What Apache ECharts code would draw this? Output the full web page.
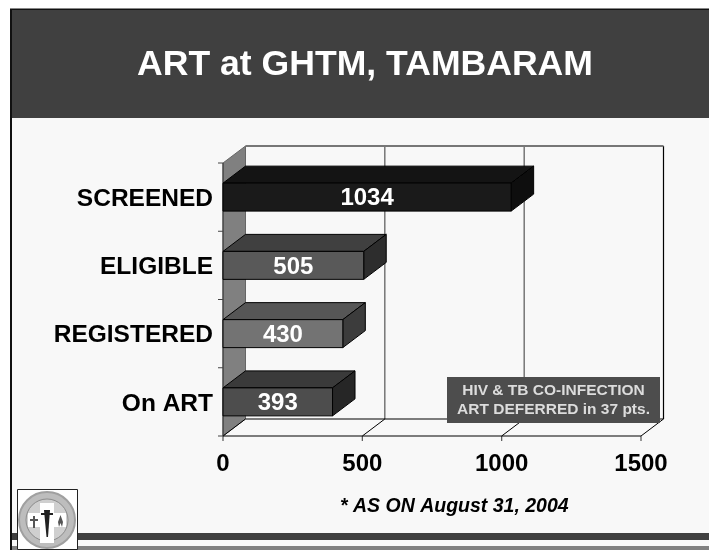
<!DOCTYPE html>
<html><head><meta charset="utf-8">
<style>html,body{margin:0;padding:0;background:#fff}#c{width:709px;height:550px}</style>
<script src="https://cdn.jsdelivr.net/npm/echarts@6/dist/echarts.min.js"></script>
</head><body><div id="c"></div>
<script>
const categories = ['On ART', 'REGISTERED', 'ELIGIBLE', 'SCREENED'];
const values = [393, 430, 505, 1034];
const ticks = [0, 500, 1000, 1500];
const titleText = 'ART at GHTM, TAMBARAM';
const footnote = '* AS ON August 31, 2004';
const noteLines = ['HIV & TB CO-INFECTION', 'ART DEFERRED in 37 pts.'];
const frontColors = ['#4d4d4d', '#737373', '#595959', '#1a1a1a'];
const topColors = ['#3a3a3a', '#565656', '#404040', '#141414'];
const sideColors = ['#262626', '#3c3c3c', '#2d2d2d', '#0e0e0e'];

const DX = 22.5, DY = -17;
const chart = echarts.init(document.getElementById('c'), null, {renderer: 'canvas'});
const FF = '"Liberation Sans", Arial, sans-serif';
const poly = (pts, fill, stroke, lw) => ({type: 'polygon', shape: {points: pts}, style: {fill, stroke: stroke || null, lineWidth: lw || 0}});
const line = (a, b, stroke, lw) => ({type: 'line', shape: {x1: a[0], y1: a[1], x2: b[0], y2: b[1]}, style: {stroke, lineWidth: lw || 1}});

function renderFrame(params, api) {
  if (params.dataIndex > 0) return;
  const g = [];
  const bottom = params.coordSys.y + params.coordSys.height;
  const top = params.coordSys.y;
  const x0 = params.coordSys.x;
  const xMax = x0 + params.coordSys.width;
  g.push(poly([[x0, top], [x0 + DX, top + DY], [x0 + DX, bottom + DY], [x0, bottom]], '#808080', '#666', 1));
  ticks.forEach((t, i) => {
    const x = api.coord([t, 0])[0];
    if (i > 0) {
      g.push(line([x + DX, top + DY], [x + DX, bottom + DY], i === ticks.length - 1 ? '#000' : '#555', 1.2));
    }
    g.push(line([x, bottom], [x + DX, bottom + DY], '#000', 1));
    g.push(line([x, bottom], [x, bottom + 5], '#555', 1.2));
  });
  g.push(line([x0 + DX, top + DY], [xMax + DX, top + DY], '#777', 2));
  g.push(line([x0 + DX, bottom + DY], [xMax + DX, bottom + DY], '#000', 1));
  g.push(line([x0, bottom], [xMax, bottom], '#000', 1.2));
  g.push(line([x0, top], [x0, bottom], '#333', 1));
  for (let i = 0; i <= categories.length; i++) {
    const y = bottom - (bottom - top) * i / categories.length;
    g.push(line([x0 - 5, y], [x0, y], '#444', 1));
  }
  return {type: 'group', children: g};
}

function renderBar(params, api) {
  const i = params.dataIndex;
  const end = api.coord([api.value(0), i]);
  const start = api.coord([0, i]);
  const h = api.size([0, 1])[1] * 0.41;
  const y1 = end[1] - h / 2, y2 = end[1] + h / 2;
  const S = '#000';
  return {type: 'group', children: [
    poly([[start[0], y1], [end[0], y1], [end[0] + DX, y1 + DY], [start[0] + DX, y1 + DY]], topColors[i], S, 1),
    poly([[end[0], y1], [end[0] + DX, y1 + DY], [end[0] + DX, y2 + DY], [end[0], y2]], sideColors[i], S, 1),
    {type: 'rect', shape: {x: start[0], y: y1, width: end[0] - start[0], height: y2 - y1}, style: {fill: frontColors[i], stroke: S, lineWidth: 1}},
    {type: 'text', style: {text: String(api.value(0)), x: (start[0] + end[0]) / 2, y: end[1] + 1.5, align: 'center', verticalAlign: 'middle', fill: '#fff', font: 'bold 24px ' + FF}}
  ]};
}

const logo = [
  {type: 'rect', shape: {x: 17.5, y: 489.5, width: 60, height: 60}, style: {fill: '#fff', stroke: '#222', lineWidth: 1}, z: 20},
  {type: 'circle', shape: {cx: 47, cy: 520, r: 28}, style: {fill: '#bdbdbd', stroke: '#a0a0a0', lineWidth: 2}, z: 21},
  {type: 'circle', shape: {cx: 47, cy: 520, r: 21}, style: {fill: '#cfcfcf', stroke: '#8c8c8c', lineWidth: 1}, z: 21},
  {type: 'rect', shape: {x: 40, y: 503, width: 14, height: 40}, style: {fill: '#fff'}, z: 22},
  {type: 'rect', shape: {x: 28, y: 513, width: 38, height: 14}, style: {fill: '#fff'}, z: 22},
  {type: 'polygon', shape: {points: [[44, 510], [50, 510], [48, 537], [46.5, 537]]}, style: {fill: '#222'}, z: 23},
  {type: 'rect', shape: {x: 41, y: 513, width: 12, height: 2}, style: {fill: '#222'}, z: 23},
  {type: 'rect', shape: {x: 33, y: 516, width: 2, height: 12}, style: {fill: '#555'}, z: 23},
  {type: 'rect', shape: {x: 30, y: 519, width: 8, height: 2}, style: {fill: '#555'}, z: 23},
  {type: 'polygon', shape: {points: [[60.5, 515], [63, 522], [62, 527], [60.5, 523], [59, 527], [58, 522]]}, style: {fill: '#555'}, z: 23}
];

chart.setOption({
  animation: false,
  backgroundColor: '#ffffff',
  grid: {left: 223, top: 163, width: 418, height: 273, containLabel: false},
  xAxis: {type: 'value', min: 0, max: 1500, interval: 500,
    axisLine: {show: false}, axisTick: {show: false}, splitLine: {show: false},
    axisLabel: {show: true, margin: 16, color: '#000', fontFamily: FF, fontWeight: 'bold', fontSize: 24, formatter: v => String(v), hideOverlap: false}},
  yAxis: {type: 'category', data: categories,
    axisLine: {show: false}, axisTick: {show: false},
    axisLabel: {margin: 10, color: '#000', fontFamily: FF, fontWeight: 'bold', fontSize: 24.5, verticalAlign: 'top', lineHeight: 4}},
  graphic: {elements: [
    {type: 'rect', z: -10, shape: {x: 11, y: 9, width: 698, height: 541}, style: {fill: '#f8f8f8'}},
    {type: 'rect', z: -9, shape: {x: 11, y: 10, width: 698, height: 108}, style: {fill: '#404040'}},
    {type: 'rect', z: -9, shape: {x: 10, y: 8.5, width: 699, height: 1.5}, style: {fill: '#111'}},
    {type: 'rect', z: -8, shape: {x: 10, y: 9, width: 2, height: 541}, style: {fill: '#111'}},
    {type: 'rect', z: -9, shape: {x: 12, y: 533, width: 697, height: 7}, style: {fill: '#404040'}},
    {type: 'rect', z: -9, shape: {x: 12, y: 546, width: 697, height: 4}, style: {fill: '#808080'}},
    {type: 'text', z: 5, style: {text: titleText, x: 365, y: 65, align: 'center', verticalAlign: 'middle', fill: '#fff', font: 'bold 35.6px ' + FF}},
    {type: 'rect', z: 30, shape: {x: 447, y: 377, width: 213, height: 46}, style: {fill: '#4d4d4d'}},
    {type: 'text', z: 31, style: {text: noteLines[0], x: 553.5, y: 391, align: 'center', verticalAlign: 'middle', fill: '#dcdcdc', font: 'bold 15.5px ' + FF}},
    {type: 'text', z: 31, style: {text: noteLines[1], x: 553.5, y: 410, align: 'center', verticalAlign: 'middle', fill: '#dcdcdc', font: 'bold 15.5px ' + FF}},
    {type: 'text', z: 5, style: {text: footnote, x: 340, y: 507, align: 'left', verticalAlign: 'middle', fill: '#000', font: 'italic bold 19.5px ' + FF}},
    ...logo
  ]},
  series: [
    {type: 'custom', coordinateSystem: 'cartesian2d', renderItem: renderFrame, data: values.map((v, i) => [v, i]), encode: {x: 0, y: 1}, silent: true, z: 1, clip: false},
    {type: 'custom', coordinateSystem: 'cartesian2d', renderItem: renderBar, data: values.map((v, i) => [v, i]), encode: {x: 0, y: 1}, silent: true, z: 2, clip: false}
  ]
});
</script></body></html>
